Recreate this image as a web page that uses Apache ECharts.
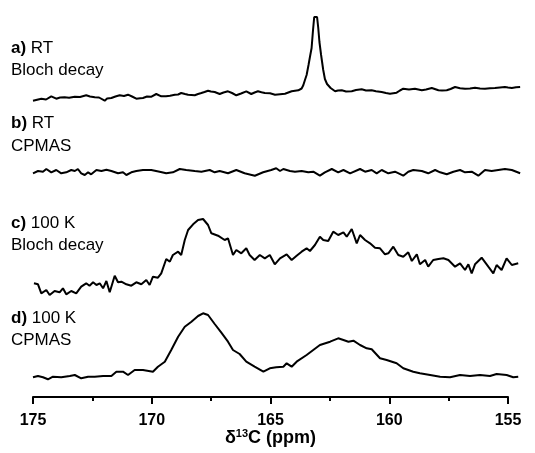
<!DOCTYPE html>
<html>
<head>
<meta charset="utf-8">
<script src="https://cdn.jsdelivr.net/npm/echarts@6/dist/echarts.min.js"></script>
<style>
html,body{margin:0;padding:0;background:#fff;}
#chart{width:535px;height:453px;}
</style>
</head>
<body>
<div id="chart"></div>
<script>
// x: chemical shift (ppm), y: intensity (arbitrary units, relative to each trace's baseline)
const specA = [[175.0,-0.7],[174.65,1.3],[174.45,0.5],[174.23,3.7],[174.02,1.3],[173.86,2.5],[173.67,2.7],[173.48,2.2],[173.24,3.3],[173.02,3],[172.76,4.7],[172.6,3.5],[172.4,2.7],[172.22,2.5],[171.98,-0.7],[171.88,1.5],[171.7,2],[171.53,3.5],[171.35,4.7],[171.17,4],[171.0,5.3],[170.83,3.5],[170.65,1.3],[170.49,1.7],[170.37,2],[170.2,3.5],[170.03,3.2],[169.81,6],[169.6,3.7],[169.4,3.8],[169.23,4.2],[169.03,5.3],[168.89,5.5],[168.76,7],[168.6,6],[168.47,5.3],[168.33,5],[168.19,4.7],[168.05,6],[167.91,7],[167.78,8],[167.63,9.3],[167.51,8.5],[167.35,8],[167.14,6],[166.98,7.5],[166.79,8.7],[166.62,7],[166.44,4.7],[166.24,6.5],[166.02,8.7],[165.81,6],[165.67,7.5],[165.53,8.7],[165.38,7.7],[165.24,7],[165.02,6.7],[164.81,5.3],[164.6,5.8],[164.39,6.3],[164.11,8.7],[163.83,9.7],[163.69,11.5],[163.62,14.7],[163.55,20],[163.48,25],[163.4,35],[163.34,43],[163.27,52],[163.21,70],[163.16,83],[163.1,85],[163.04,83],[162.99,72],[162.94,58],[162.87,45],[162.78,30],[162.71,21],[162.62,16],[162.57,14.7],[162.47,12],[162.39,10],[162.28,8.7],[162.16,9.5],[162.0,9.7],[161.82,8.5],[161.58,8.7],[161.4,10],[161.16,10.7],[160.98,9.5],[160.74,9.7],[160.56,8.8],[160.32,8],[160.14,7],[159.97,6.3],[159.69,7.3],[159.55,9.5],[159.41,11.3],[159.17,10.5],[158.92,11.3],[158.63,9.7],[158.45,10.5],[158.21,12],[157.93,9.7],[157.78,9.4],[157.58,9.7],[157.42,11],[157.23,13],[157.02,11.8],[156.81,11.3],[156.6,11.5],[156.39,12.3],[156.18,11.5],[155.97,11.3],[155.76,11.8],[155.55,12],[155.34,12.5],[155.13,13],[155.0,12.5],[154.84,12],[154.66,12.7],[154.49,13]];

const specB = [[175.0,1.7],[174.79,4],[174.58,3.3],[174.44,6],[174.23,2.7],[174.02,5],[173.81,1.7],[173.6,2.7],[173.39,5],[173.24,4],[173.11,6],[172.97,1.7],[172.82,0],[172.68,2.7],[172.55,0.7],[172.33,5],[172.12,4],[171.91,5.3],[171.7,4],[171.42,1.7],[171.21,2.7],[171.07,0],[170.86,2.7],[170.65,4],[170.37,5],[170.02,5],[169.67,3.3],[169.39,1.7],[169.11,2.7],[168.82,6],[168.55,5],[168.19,4],[167.91,3.3],[167.56,5],[167.35,2.7],[167.14,4],[166.79,1.7],[166.44,5],[166.09,1.7],[165.66,-0.7],[165.31,2.7],[164.97,5],[164.76,6.7],[164.6,4],[164.46,6],[164.18,4],[163.97,3.3],[163.69,4],[163.41,2.7],[163.2,3.3],[162.92,-0.7],[162.71,2.7],[162.42,6],[162.15,2.7],[161.93,5],[161.65,1.7],[161.23,6],[161.02,3.3],[160.74,5],[160.53,1.7],[160.32,5],[160.04,1.7],[159.76,3.3],[159.41,-0.7],[159.2,3.3],[158.99,5],[158.63,4],[158.36,1.7],[158.07,5],[157.86,2.7],[157.58,0.7],[157.3,3.3],[157.02,5],[156.81,2.7],[156.53,3.3],[156.25,-0.7],[155.97,5],[155.69,4],[155.41,5],[155.13,6],[154.84,5],[154.49,1.7]];

const specC = [[174.96,11.7],[174.79,10.7],[174.65,1.7],[174.44,5],[174.3,0],[174.09,4],[173.88,2.7],[173.74,6.7],[173.6,0.7],[173.39,4],[173.18,1.7],[172.97,8.3],[172.76,11.7],[172.62,9.3],[172.47,12.7],[172.33,10],[172.19,11.7],[172.05,6.7],[171.91,14],[171.77,2.7],[171.56,19.3],[171.42,12.7],[171.28,13.3],[171.07,10.7],[170.86,9.3],[170.65,12.7],[170.44,10.7],[170.23,15],[170.09,10],[169.95,18.3],[169.74,17.3],[169.6,21.7],[169.39,36],[169.24,33.3],[169.11,40],[168.89,43.3],[168.76,40],[168.61,55],[168.47,65],[168.26,70.7],[168.05,75],[167.84,76],[167.63,70],[167.49,61.7],[167.21,59.3],[166.93,55],[166.79,56.7],[166.58,40],[166.44,45],[166.23,41.7],[166.02,46.7],[165.88,40],[165.67,35],[165.45,40],[165.24,36.7],[165.03,40],[164.82,30.7],[164.6,36.7],[164.32,40.7],[164.11,35],[163.9,39.3],[163.69,43.3],[163.48,46.7],[163.34,44],[163.13,50],[162.92,58.3],[162.78,55],[162.57,54],[162.36,63.3],[162.15,60],[161.93,62.7],[161.79,58.3],[161.58,66],[161.37,51.7],[161.23,60],[161.02,55],[160.81,51.7],[160.6,47.3],[160.39,46.7],[160.18,40.7],[160.04,41.7],[159.83,48.3],[159.62,40],[159.41,38.3],[159.2,42.7],[159.05,34],[158.84,40.7],[158.71,30.7],[158.49,35],[158.36,28.3],[158.15,35],[157.93,36],[157.72,36.7],[157.51,35],[157.23,28.3],[157.02,31.7],[156.81,25],[156.67,30.7],[156.53,21.7],[156.39,30.7],[156.11,37.3],[155.83,28.3],[155.62,21.7],[155.48,30],[155.27,25],[155.06,36.7],[154.84,30],[154.57,31.7]];

const specD = [[175.0,2.7],[174.79,4],[174.58,2.7],[174.37,0.7],[174.16,3.3],[173.81,2.7],[173.45,4],[173.24,5],[172.97,1.7],[172.68,3.3],[172.4,3.3],[172.05,4],[171.7,4],[171.49,8.3],[171.21,8.3],[171.0,5],[170.72,10],[170.37,10],[169.95,8.3],[169.74,13.3],[169.45,18.3],[169.18,30],[168.89,43.3],[168.61,53.3],[168.33,58.3],[168.05,64],[167.84,66.7],[167.63,65],[167.35,56],[167.07,47.3],[166.79,38.3],[166.58,30],[166.3,26],[166.02,18.3],[165.67,13.3],[165.3,8.3],[165.03,11.7],[164.76,12.7],[164.46,13.3],[164.32,16.7],[164.11,13.3],[163.9,18.3],[163.48,25],[163.2,30],[162.92,35],[162.49,38.3],[162.15,41.7],[161.93,40],[161.72,38.3],[161.51,39.3],[161.23,35],[160.95,31.7],[160.74,30.7],[160.39,21.7],[160.11,20],[159.69,16.7],[159.41,11.7],[158.99,8.3],[158.71,6.7],[158.28,5],[157.86,3.3],[157.44,2.7],[157.02,5],[156.6,4],[156.18,5],[155.76,4],[155.48,6],[155.06,5],[154.78,2.7],[154.57,3.3]];

const traceLabels = [
  ['a)', 'RT', 'Bloch decay'],
  ['b)', 'RT', 'CPMAS'],
  ['c)', '100 K', 'Bloch decay'],
  ['d)', '100 K', 'CPMAS']
];
const xTicks = [175, 170, 165, 160, 155];

// layout (vertical offsets of stacked traces, label positions)
const offsets = [300, 225, 105, 20];
const labelY = [[48, 70], [123, 146], [223, 245], [318, 340]];
const FONT = 'Arial, "Liberation Sans", Helvetica, sans-serif';

const specs = [specA, specB, specC, specD];
const chart = echarts.init(document.getElementById('chart'), null, {renderer: 'canvas'});

const series = specs.map((s, i) => ({
  type: 'line',
  xAxisIndex: 0,
  yAxisIndex: 0,
  data: s.map(p => [p[0], p[1] + offsets[i]]),
  showSymbol: false,
  symbol: 'none',
  clip: false,
  smooth: false,
  lineStyle: {color: '#000', width: 2},
  silent: true
}));

const graphics = [];
traceLabels.forEach((lab, i) => {
  graphics.push({
    type: 'text', left: 11, top: labelY[i][0] - 8,
    style: {
      text: '{b|' + lab[0] + '} ' + lab[1],
      font: '17px ' + FONT, fill: '#000',
      rich: {b: {fontWeight: 'bold', fontSize: 17, fontFamily: FONT, fill: '#000'}}
    }
  });
  graphics.push({
    type: 'text', left: 11, top: labelY[i][1] - 8,
    style: {text: lab[2], font: '17px ' + FONT, fill: '#000'}
  });
});

chart.setOption({
  animation: false,
  backgroundColor: '#fff',
  grid: [
    {left: 33, right: 15.1, top: 0, bottom: 53, outerBoundsMode: 'none', containLabel: false},
    {left: 33, right: 27, top: 0, bottom: 56, outerBoundsMode: 'none', containLabel: false}
  ],
  xAxis: [
    {gridIndex: 0, type: 'value', min: 154.5, max: 175, inverse: true, show: false},
    {
      gridIndex: 1, type: 'value', min: 155, max: 175, interval: 5, inverse: true,
      axisLine: {show: true, onZero: false, lineStyle: {color: '#000', width: 2}},
      axisTick: {show: true, length: 7, lineStyle: {color: '#000', width: 2}},
      minorTick: {show: true, splitNumber: 2, length: 4, lineStyle: {color: '#000', width: 2}},
      splitLine: {show: false},
      axisLabel: {
        color: '#000', fontSize: 16, fontWeight: 'bold', fontFamily: FONT, margin: 16,
        customValues: xTicks, formatter: v => String(v)
      },
      name: '{n|δ}{s|13}{n|C (ppm)}',
      nameLocation: 'middle',
      nameGap: 31,
      nameMoveOverlap: false,
      nameTextStyle: {
        rich: {
          n: {fontSize: 18, fontWeight: 'bold', fontFamily: FONT, color: '#000', lineHeight: 20},
          s: {fontSize: 11, fontWeight: 'bold', fontFamily: FONT, color: '#000', verticalAlign: 'top', lineHeight: 20}
        }
      }
    }
  ],
  yAxis: [
    {gridIndex: 0, type: 'value', min: 0, max: 400, show: false},
    {gridIndex: 1, type: 'value', min: 0, max: 1, show: false}
  ],
  series: series,
  graphic: graphics
});
</script>
</body>
</html>
